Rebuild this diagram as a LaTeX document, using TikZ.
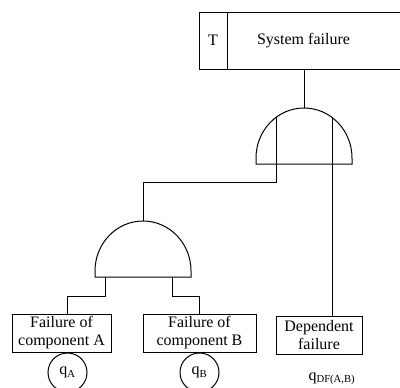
\documentclass[tikz,border=0pt]{standalone}
\usepackage{fontspec}
\setmainfont{Liberation Serif}
\usepackage{tikz}

\tikzset{
  ftbox/.style={draw, line width=0.75pt, align=center, inner sep=0pt,
    minimum height=28.5pt, font=\fontsize{12}{13.5}\selectfont},
  ftprob/.style={draw, circle, line width=0.75pt, inner sep=0pt,
    minimum size=29.25pt, font=\fontsize{12}{13.5}\selectfont},
  fttext/.style={inner sep=0.75pt, font=\fontsize{12}{13.5}\selectfont},
  ftline/.style={line width=0.75pt}
}

\begin{document}
\begin{tikzpicture}[x=0.75pt,y=0.75pt,yscale=-1,xscale=1]
        \useasboundingbox (0,0) rectangle (400,387);
        
        %Shape: Rectangle [top event]
        \draw [ftline] (199,12) rectangle (227,69) ;
        \draw [ftline] (227,12) -- (402,12) (227,69) -- (402,69) ;
        % Text Node
        \node [fttext] (tlabel) at (213,40.5) {T};
        % Text Node
        \node [fttext] (sysfail) at (303.5,40.5) {System failure};
        \coordinate (topout) at (304,69);
        
        %Shape: AND gate [upper]
        \draw [ftline] (256,164) -- (256,158) arc [start angle=180, end angle=360, x radius=48, y radius=50] -- (352,164) -- cycle ;
        \coordinate (g1out) at (304,108);
        \coordinate (g1inL) at (276,117.4);
        \coordinate (g1inR) at (332,117.4);
        
        %Shape: AND gate [lower]
        \draw [ftline] (95,277) -- (95,271) arc [start angle=180, end angle=360, x radius=48, y radius=50] -- (191,277) -- cycle ;
        \coordinate (g2out) at (143,221);
        \coordinate (g2inL) at (105,277);
        \coordinate (g2inR) at (172,277);
        
        % Basic events
        \node [ftbox, minimum width=74.25pt] (compA) at (61.5,333) {Failure of\\component A};
        \node [ftbox, minimum width=84.75pt] (compB) at (199.5,333) {Failure of\\component B};
        \node [ftbox, minimum width=64.5pt] (depfail) at (319,335) {Dependent\\failure};
        \coordinate (inA) at (67,314);
        \coordinate (inB) at (199,314);
        
        % Probabilities
        \node [ftprob] (qA) at (67.5,372.5) {q\textsubscript{A}};
        \node [ftprob] (qB) at (199.5,372.5) {q\textsubscript{B}};
        \node [fttext] (qDF) at (332,379) {q\textsubscript{DF(A,B)}};
        
        % Connectors
        \draw [ftline] (topout) -- (g1out) ;
        \draw [ftline] (g1inL) -- ++(0,64.6) -| (g2out) ;
        \draw [ftline] (g1inR) -- (g1inR |- depfail.north) ;
        \draw [ftline] (g2inL) -- ++(0,19) -| (inA) ;
        \draw [ftline] (g2inR) -- ++(0,19) -| (inB) ;
        
\end{tikzpicture}
\end{document}
